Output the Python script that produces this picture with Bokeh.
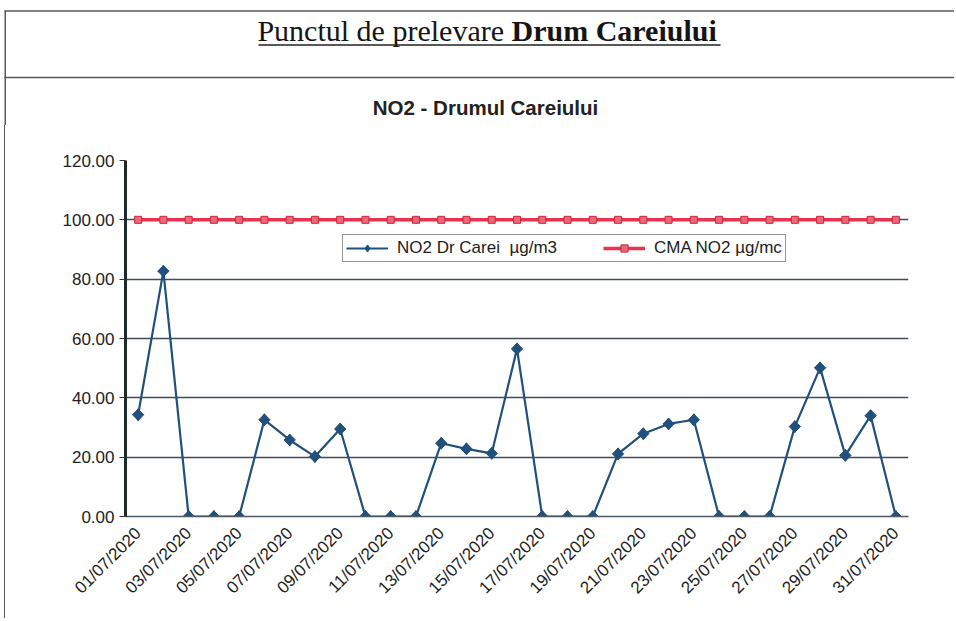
import math
from bokeh.plotting import figure
from bokeh.models import Range1d, FixedTicker, Legend, LegendItem
from bokeh.core.properties import value
from bokeh.embed import file_html
from bokeh.resources import INLINE

# ---------------- data ----------------
dates = ["01/07/2020", "02/07/2020", "03/07/2020", "04/07/2020", "05/07/2020",
         "06/07/2020", "07/07/2020", "08/07/2020", "09/07/2020", "10/07/2020",
         "11/07/2020", "12/07/2020", "13/07/2020", "14/07/2020", "15/07/2020",
         "16/07/2020", "17/07/2020", "18/07/2020", "19/07/2020", "20/07/2020",
         "21/07/2020", "22/07/2020", "23/07/2020", "24/07/2020", "25/07/2020",
         "26/07/2020", "27/07/2020", "28/07/2020", "29/07/2020", "30/07/2020",
         "31/07/2020"]
no2_values = [34.3, 82.7, 0.0, 0.0, 0.0, 32.6, 25.8, 20.2, 29.5, 0.0,
              0.0, 0.0, 24.7, 22.8, 21.3, 56.5, 0.0, 0.0, 0.0, 21.1,
              27.9, 31.2, 32.6, 0.0, 0.0, 0.0, 30.3, 50.1, 20.6, 34.0,
              0.0]
cma_values = [100.0, 100.0, 100.0, 100.0, 100.0, 100.0, 100.0, 100.0, 100.0, 100.0,
              100.0, 100.0, 100.0, 100.0, 100.0, 100.0, 100.0, 100.0, 100.0, 100.0,
              100.0, 100.0, 100.0, 100.0, 100.0, 100.0, 100.0, 100.0, 100.0, 100.0,
              100.0]
y_ticks = [0, 20, 40, 60, 80, 100, 120]
series_names = ["NO2 Dr Carei  \u00b5g/m3", "CMA NO2 \u00b5g/mc"]
page_title_regular = "Punctul de prelevare "
page_title_bold = "Drum Careiului"
chart_title = "NO2 - Drumul Careiului"

TOP_W, TOP_H = 954, 125
CH_W, CH_H = 948, 493
box_color = "#555a5a"

# ---------------- header (pixel-mapped decoration figure) ----------------
top = figure(width=TOP_W, height=TOP_H, output_backend="svg", toolbar_location=None,
             x_range=Range1d(0, TOP_W), y_range=Range1d(TOP_H, 0),
             min_border=0, outline_line_color=None)
top.axis.visible = False
top.grid.visible = False
# box frame lines (top, middle, left)
top.segment(x0=[4, 4, 4.75], y0=[10.5, 77, 10], x1=[TOP_W, TOP_W, 4.75], y1=[10.5, 77, TOP_H],
            line_color=box_color, line_width=1.5)
split_x = 511
top.text(x=[split_x], y=[30], text=[page_title_regular],
         text_font=value("Liberation Serif"), text_font_size="30px",
         text_align="right", text_baseline="middle", text_color="#151515")
top.text(x=[split_x], y=[30], text=[page_title_bold],
         text_font=value("Liberation Serif"), text_font_size="30px", text_font_style="bold",
         text_align="left", text_baseline="middle", text_color="#151515")
top.segment(x0=[258], y0=[44.5], x1=[720], y1=[44.5], line_color="#222222", line_width=1.5)
# chart title
top.text(x=[485], y=[107], text=[chart_title],
         text_font=value("Liberation Sans"), text_font_size="20.5px", text_font_style="bold",
         text_align="center", text_baseline="middle", text_color="#222222")

# ---------------- chart ----------------
xs = list(range(len(dates)))
p = figure(width=CH_W, height=CH_H, output_backend="svg", toolbar_location=None,
           x_range=Range1d(-0.5, len(dates) - 0.5), y_range=Range1d(0, 120),
           min_border_left=120, min_border_right=45, min_border_bottom=102, min_border_top=35,
           outline_line_color=None,
           styles={"border-left": "1.5px solid " + box_color, "margin-left": "4px"})

# y axis
p.yaxis.ticker = FixedTicker(ticks=y_ticks)
p.yaxis.major_label_overrides = {v: f"{v:.2f}" for v in y_ticks}
p.yaxis.axis_line_width = 3
p.yaxis.axis_line_color = "#1e2b2b"
p.yaxis.major_tick_out = 6
p.yaxis.major_tick_in = 0
p.yaxis.major_tick_line_color = "#333333"
p.yaxis.minor_tick_line_color = None
p.yaxis.major_label_text_font = "Liberation Sans"
p.yaxis.major_label_text_font_size = "17px"
p.yaxis.major_label_text_color = "#222222"
p.yaxis.major_label_standoff = 5

# x axis
p.xaxis.ticker = FixedTicker(ticks=xs[::2])
p.xaxis.major_label_overrides = {i: dates[i] for i in xs[::2]}
p.xaxis.major_label_orientation = math.pi / 4
p.xaxis.axis_line_color = "#4a5a66"
p.xaxis.axis_line_width = 1.5
p.xaxis.major_tick_line_color = None
p.xaxis.minor_tick_line_color = None
p.xaxis.major_label_text_font = "Liberation Sans"
p.xaxis.major_label_text_font_size = "17px"
p.xaxis.major_label_text_color = "#222222"
p.xaxis.major_label_standoff = 8

p.xgrid.visible = False
p.ygrid.ticker = FixedTicker(ticks=y_ticks)
p.ygrid.grid_line_color = "#3d4d5c"
p.ygrid.grid_line_width = 1.5

# series
blue = "#22507c"
red = "#e8334a"
l1 = p.line(xs, no2_values, line_color=blue, line_width=2.2)
m1d = p.scatter(xs, no2_values, marker="diamond", size=12,
                fill_color=blue, line_color=blue)
m1 = p.scatter(xs, no2_values, marker="square", angle=math.pi / 4, size=8,
               fill_color=blue, line_color=blue)
l2 = p.line(xs, cma_values, line_color=red, line_width=3.5)
m2 = p.scatter(xs, cma_values, marker="square", size=7,
               fill_color="#ee6677", line_color="#c8283c", line_width=1)

legend = Legend(items=[LegendItem(label=series_names[0], renderers=[l1, m1d]),
                       LegendItem(label=series_names[1], renderers=[l2, m2])],
                location=(217, 254), orientation="horizontal",
                border_line_color="#333333", border_line_width=1,
                background_fill_alpha=1.0, padding=3, spacing=46, margin=0,
                glyph_width=42, glyph_height=18, label_standoff=9,
                label_text_font="Liberation Sans", label_text_font_size="17px",
                label_text_color="#222222")
p.add_layout(legend, "center")

open("out.html", "w").write(file_html([top, p], INLINE))
